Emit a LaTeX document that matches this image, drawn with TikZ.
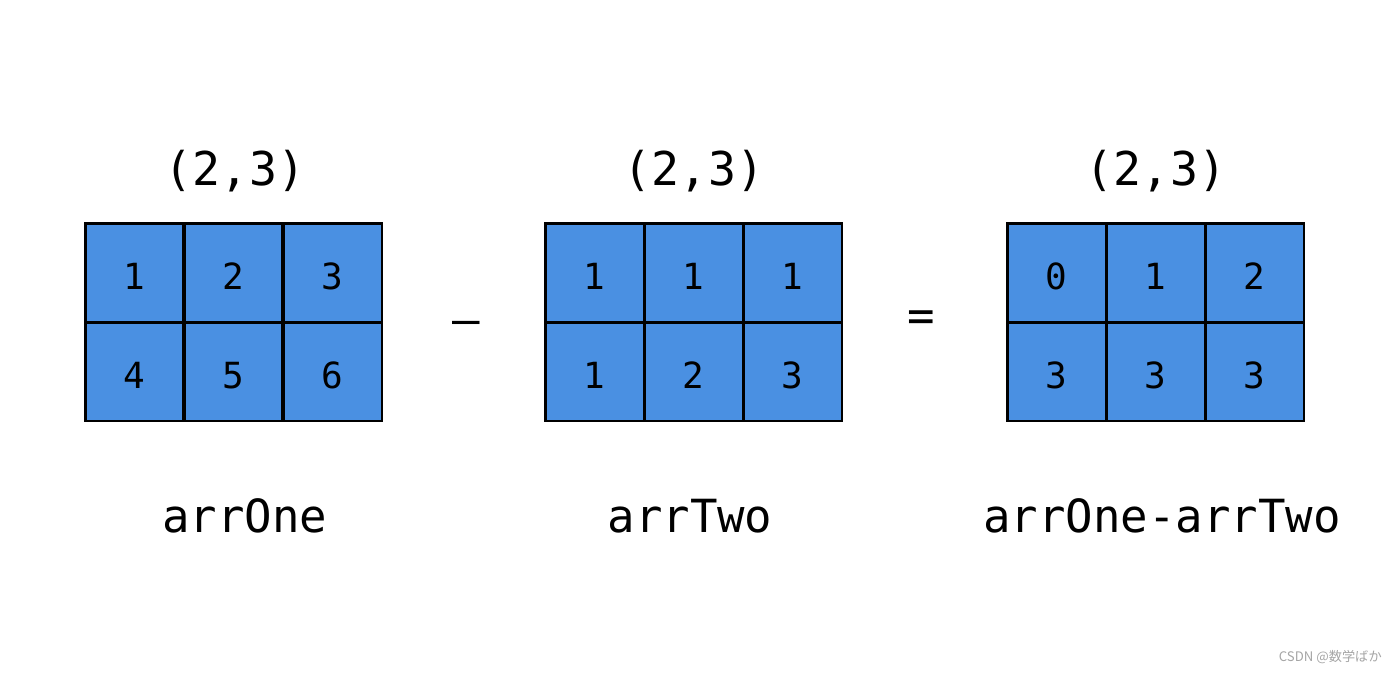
\documentclass[tikz,border=0pt]{standalone}
\usepackage{fontspec}
\setmonofont{DejaVu Sans Mono}
\newfontfamily\cjkfont{Noto Sans CJK JP}
\usepackage{tikz}
\definecolor{cellblue}{RGB}{74,144,226}
\definecolor{markgray}{RGB}{165,165,165}
\tikzset{
    cell/.style={draw, fill=cellblue, line width=1.7pt, minimum width=1.98cm, minimum height=1.98cm, inner sep=0pt, text height=19.5pt, font=\ttfamily\fontsize{20.5}{20.5}\selectfont},
    shapelabel/.style={anchor=base, font=\ttfamily\fontsize{26.5}{26.5}\selectfont},
    namelabel/.style={anchor=base, font=\ttfamily\fontsize{26}{26}\selectfont},
    opsign/.style={font=\ttfamily\fontsize{26}{26}\selectfont}
}

\begin{document}
\begin{tikzpicture}[x=0.02cm, y=-0.02cm]
    \useasboundingbox (0,0) rectangle (1400,674);
    % the three arrays, cell by cell
    \foreach \v [count=\i from 0] in {1,2,3,4,5,6} {
        \pgfmathtruncatemacro\c{mod(\i,3)} \pgfmathtruncatemacro\r{div(\i,3)}
        \node[cell] (one-\i) at (134.5+99*\c, 272.5+99*\r) {\v};
    }
    \foreach \v [count=\i from 0] in {1,1,1,1,2,3} {
        \pgfmathtruncatemacro\c{mod(\i,3)} \pgfmathtruncatemacro\r{div(\i,3)}
        \node[cell] (two-\i) at (594.5+99*\c, 272.5+99*\r) {\v};
    }
    \foreach \v [count=\i from 0] in {0,1,2,3,3,3} {
        \pgfmathtruncatemacro\c{mod(\i,3)} \pgfmathtruncatemacro\r{div(\i,3)}
        \node[cell] (diff-\i) at (1056.5+99*\c, 272.5+99*\r) {\v};
    }
    \node[shapelabel] (oneshape) at (235,185) {(2,3)};
    \node[shapelabel] (twoshape) at (694,185) {(2,3)};
    \node[shapelabel] (diffshape) at (1156,185) {(2,3)};
    \node[opsign] (minus) at (466,328) {—};
    \node[opsign] (equals) at (921,321) {=};
    \node[namelabel] (onename) at (245,532) {arrOne};
    \node[namelabel] (twoname) at (690,532) {arrTwo};
    \node[namelabel] (diffname) at (1162,532) {arrOne-arrTwo};
    \node[anchor=east, text=markgray, font=\cjkfont\fontsize{7.5}{7.5}\selectfont] (mark) at (1388,657) {CSDN @数学ばか};
\end{tikzpicture}
\end{document}
